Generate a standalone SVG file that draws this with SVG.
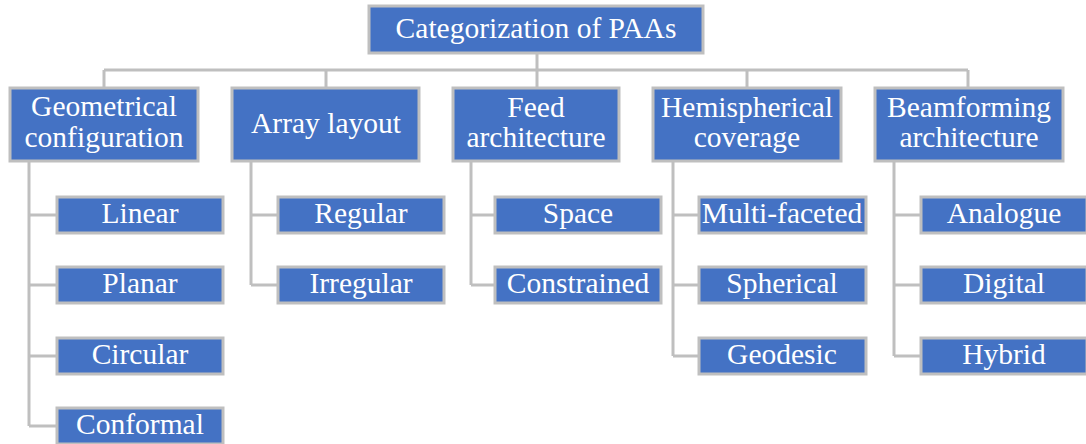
<svg xmlns="http://www.w3.org/2000/svg" width="1086" height="444" viewBox="0 0 1086 444">
<style>
.box{fill:#4472c4;stroke:#bfbfbf;stroke-width:3}
.t{font-family:"Liberation Serif","Times New Roman",serif;font-size:29.5px;fill:#ffffff;text-anchor:middle}
.c{fill:none;stroke:#bfbfbf;stroke-width:3}
</style>
<rect width="1086" height="444" fill="#ffffff"/>
<g id="connectors">
<path class="c" d="M537 53V70M104 70H968M104 70V87M326 70V87M537 70V87M747 70V87M968 70V87"/>
<path class="c" d="M29 161V426M29 215H57M29 285H57M29 356H57M29 426H57"/>
<path class="c" d="M251 161V285M251 215H278M251 285H278"/>
<path class="c" d="M471 161V285M471 215H495M471 285H495"/>
<path class="c" d="M673 161V356M673 215H699M673 285H699M673 356H699"/>
<path class="c" d="M894 161V356M894 215H921M894 285H921M894 356H921"/>
</g>
<g id="root"><rect class="box" x="369" y="6" width="334" height="47"/><text class="t" x="536" y="38">Categorization of PAAs</text></g>
<g id="geo"><rect class="box" x="10" y="88" width="188" height="73"/><text class="t" x="104" y="116">Geometrical</text><text class="t" x="104" y="147">configuration</text></g>
<g id="array"><rect class="box" x="232" y="88" width="187" height="73"/><text class="t" x="326" y="133">Array layout</text></g>
<g id="feed"><rect class="box" x="453" y="88" width="166" height="73"/><text class="t" x="536" y="117">Feed</text><text class="t" x="536" y="147">architecture</text></g>
<g id="hemi"><rect class="box" x="653" y="88" width="188" height="73"/><text class="t" x="747" y="117">Hemispherical</text><text class="t" x="747" y="147">coverage</text></g>
<g id="beam"><rect class="box" x="875" y="88" width="188" height="73"/><text class="t" x="969" y="117">Beamforming</text><text class="t" x="969" y="147">architecture</text></g>
<g id="linear"><rect class="box" x="57" y="197" width="166" height="36"/><text class="t" x="140" y="223">Linear</text></g>
<g id="planar"><rect class="box" x="57" y="267" width="166" height="36"/><text class="t" x="140" y="293">Planar</text></g>
<g id="circular"><rect class="box" x="57" y="338" width="166" height="36"/><text class="t" x="140" y="364">Circular</text></g>
<g id="conformal"><rect class="box" x="57" y="408" width="166" height="36"/><text class="t" x="140" y="434">Conformal</text></g>
<g id="regular"><rect class="box" x="278" y="197" width="166" height="36"/><text class="t" x="361" y="223">Regular</text></g>
<g id="irregular"><rect class="box" x="278" y="267" width="166" height="36"/><text class="t" x="361" y="293">Irregular</text></g>
<g id="space"><rect class="box" x="495" y="197" width="166" height="36"/><text class="t" x="578" y="223">Space</text></g>
<g id="constrained"><rect class="box" x="495" y="267" width="166" height="36"/><text class="t" x="578" y="293">Constrained</text></g>
<g id="multifaceted"><rect class="box" x="699" y="197" width="167" height="36"/><text class="t" x="782" y="223">Multi-faceted</text></g>
<g id="spherical"><rect class="box" x="699" y="267" width="167" height="36"/><text class="t" x="782" y="293">Spherical</text></g>
<g id="geodesic"><rect class="box" x="699" y="338" width="167" height="36"/><text class="t" x="782" y="364">Geodesic</text></g>
<g id="analogue"><rect class="box" x="921" y="197" width="166" height="36"/><text class="t" x="1004" y="223">Analogue</text></g>
<g id="digital"><rect class="box" x="921" y="267" width="166" height="36"/><text class="t" x="1004" y="293">Digital</text></g>
<g id="hybrid"><rect class="box" x="921" y="338" width="166" height="36"/><text class="t" x="1004" y="364">Hybrid</text></g>
</svg>
